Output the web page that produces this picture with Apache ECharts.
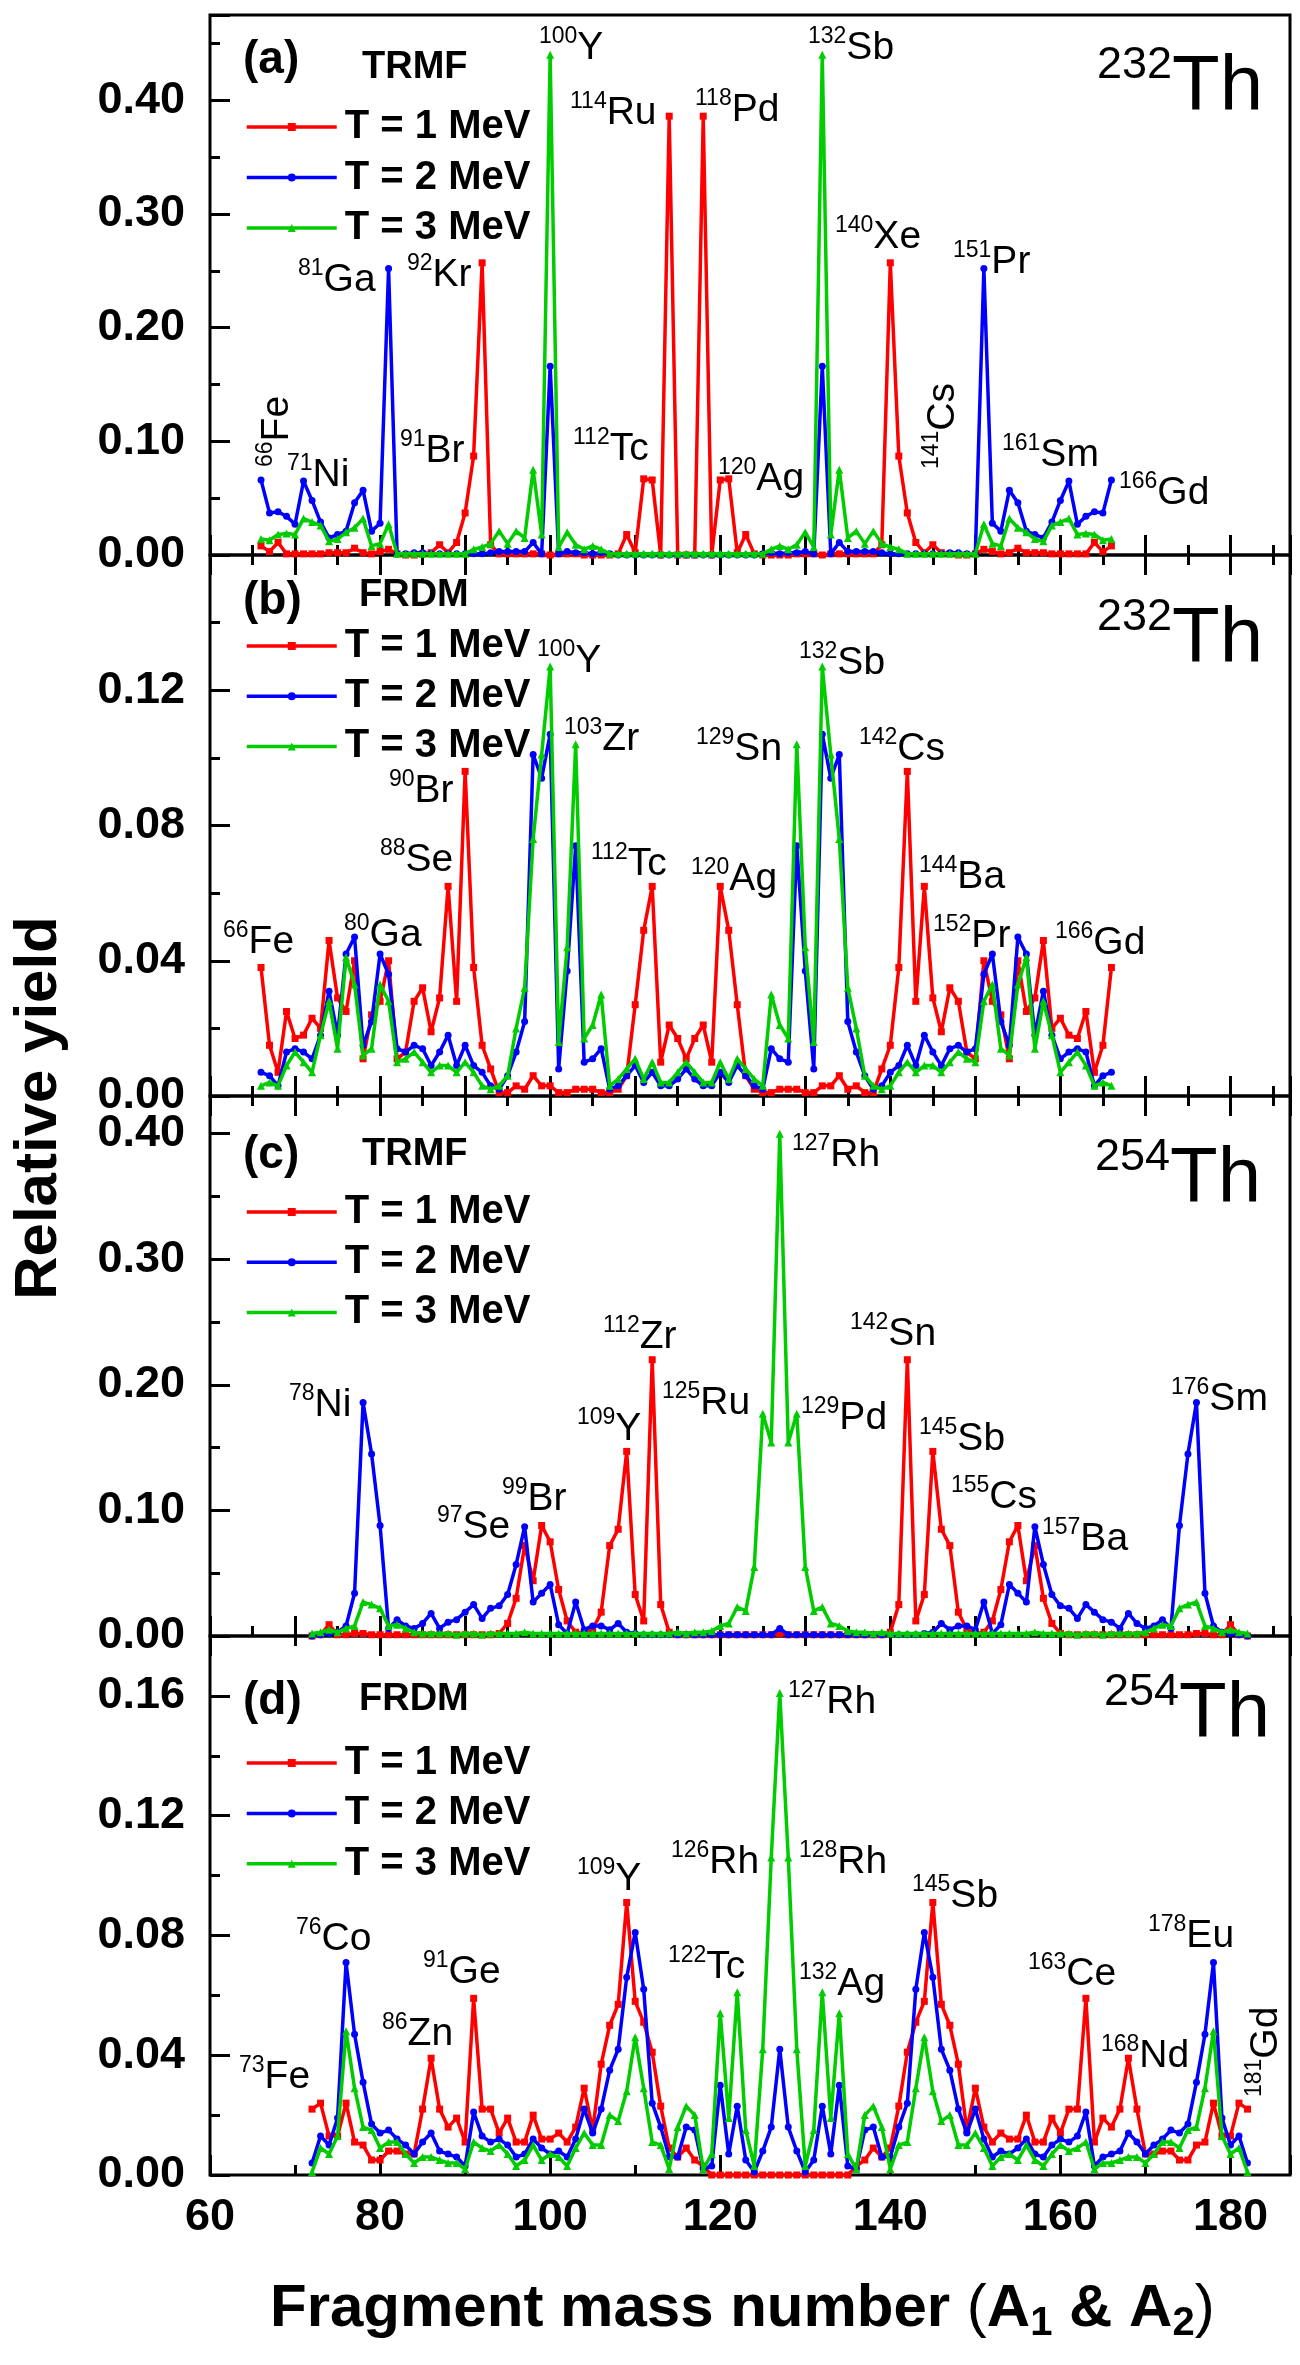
<!DOCTYPE html>
<html><head><meta charset="utf-8">
<script src="https://cdn.jsdelivr.net/npm/echarts@6/dist/echarts.min.js"></script>
<style>html,body{margin:0;padding:0;background:#fff}#c{width:1300px;height:2365px}</style>
</head><body><div id="c"></div>
<script>
const FONT = '"Liberation Sans", Arial, Helvetica, sans-serif';

// ---------- series meta ----------
const seriesNames = ['T = 1 MeV', 'T = 2 MeV', 'T = 3 MeV'];
const seriesColors = ['#ff0000', '#0000ff', '#00cc00'];
const seriesSymbols = ['rect', 'circle', 'triangle'];
const seriesSymbolSizes = [7, 7, 8];

// ---------- x values (fragment mass numbers) ----------
const massFirst232 = 66, massLast232 = 166;
const massFirst254 = 72, massLast254 = 182;

// ---------- (a) 232Th TRMF, A = 66..166 ----------
const th232TrmfT1 = [
0.008,0.003,0.011,0.001,0.001,0.001,0.001,0.001,0.002,0.002,
0.002,0.006,0.002,0.001,0.003,0.005,0.001,0.000,0.000,0.001,
0.002,0.009,0.002,0.011,0.037,0.087,0.257,0.009,0.001,0.001,
0.001,0.001,0.001,0.001,0.000,0.001,0.001,0.001,0.000,0.000,
0.000,0.000,0.001,0.018,0.002,0.067,0.066,0.000,0.386,0.000,
0.000,0.000,0.386,0.000,0.066,0.067,0.002,0.018,0.001,0.000,
0.000,0.000,0.000,0.001,0.001,0.001,0.000,0.001,0.001,0.001,
0.001,0.001,0.001,0.009,0.257,0.087,0.037,0.011,0.002,0.009,
0.002,0.001,0.000,0.000,0.001,0.005,0.003,0.001,0.002,0.006,
0.002,0.002,0.002,0.001,0.001,0.001,0.001,0.001,0.011,0.003,
0.008];
const th232TrmfT2 = [
0.066,0.037,0.038,0.034,0.027,0.065,0.048,0.029,0.015,0.018,
0.021,0.046,0.057,0.021,0.028,0.252,0.001,0.001,0.002,0.002,
0.001,0.001,0.001,0.001,0.001,0.001,0.001,0.002,0.003,0.003,
0.003,0.003,0.011,0.001,0.166,0.001,0.003,0.002,0.002,0.001,
0.002,0.001,0.000,0.000,0.000,0.000,0.000,0.000,0.000,0.000,
0.000,0.000,0.000,0.000,0.000,0.000,0.000,0.000,0.000,0.001,
0.002,0.001,0.002,0.002,0.003,0.001,0.166,0.001,0.011,0.003,
0.003,0.003,0.003,0.002,0.001,0.001,0.001,0.001,0.001,0.001,
0.001,0.002,0.002,0.001,0.001,0.252,0.028,0.021,0.057,0.046,
0.021,0.018,0.015,0.029,0.048,0.065,0.027,0.034,0.038,0.037,
0.066];
const th232TrmfT3 = [
0.014,0.013,0.018,0.019,0.018,0.032,0.029,0.026,0.012,0.014,
0.020,0.024,0.032,0.008,0.010,0.027,0.001,0.001,0.001,0.001,
0.001,0.001,0.001,0.001,0.001,0.005,0.007,0.010,0.021,0.010,
0.021,0.015,0.075,0.018,0.440,0.007,0.020,0.009,0.005,0.008,
0.005,0.001,0.001,0.001,0.001,0.001,0.001,0.001,0.001,0.001,
0.001,0.001,0.001,0.001,0.001,0.001,0.001,0.001,0.001,0.001,
0.005,0.008,0.005,0.009,0.020,0.007,0.440,0.018,0.075,0.015,
0.021,0.010,0.021,0.010,0.007,0.005,0.001,0.001,0.001,0.001,
0.001,0.001,0.001,0.001,0.001,0.027,0.010,0.008,0.032,0.024,
0.020,0.014,0.012,0.026,0.029,0.032,0.018,0.019,0.018,0.013,
0.014];

// ---------- (b) 232Th FRDM, A = 66..166 ----------
const th232FrdmT1 = [
0.038,0.015,0.007,0.025,0.017,0.018,0.023,0.020,0.046,0.029,
0.025,0.040,0.011,0.024,0.028,0.040,0.011,0.013,0.028,0.032,
0.019,0.029,0.062,0.028,0.096,0.038,0.015,0.008,0.001,0.001,
0.003,0.002,0.006,0.003,0.003,0.001,0.001,0.002,0.002,0.002,
0.001,0.001,0.002,0.006,0.027,0.049,0.062,0.010,0.021,0.017,
0.011,0.017,0.021,0.010,0.062,0.049,0.027,0.006,0.002,0.001,
0.001,0.002,0.002,0.002,0.001,0.001,0.003,0.003,0.006,0.002,
0.003,0.001,0.001,0.008,0.015,0.038,0.096,0.028,0.062,0.029,
0.019,0.032,0.028,0.013,0.011,0.040,0.028,0.024,0.011,0.040,
0.025,0.029,0.046,0.020,0.023,0.018,0.017,0.025,0.007,0.015,
0.038];
const th232FrdmT2 = [
0.007,0.006,0.003,0.013,0.014,0.013,0.011,0.018,0.031,0.018,
0.042,0.047,0.015,0.022,0.042,0.036,0.014,0.013,0.015,0.014,
0.009,0.013,0.018,0.009,0.015,0.009,0.007,0.003,0.002,0.006,
0.013,0.022,0.101,0.094,0.107,0.008,0.037,0.074,0.010,0.011,
0.014,0.002,0.003,0.006,0.009,0.004,0.007,0.003,0.003,0.005,
0.008,0.005,0.003,0.003,0.007,0.004,0.009,0.006,0.003,0.002,
0.014,0.011,0.010,0.074,0.037,0.008,0.107,0.094,0.101,0.022,
0.013,0.006,0.002,0.003,0.007,0.009,0.015,0.009,0.018,0.013,
0.009,0.014,0.015,0.013,0.014,0.036,0.042,0.022,0.015,0.047,
0.042,0.018,0.031,0.018,0.011,0.013,0.014,0.013,0.003,0.006,
0.007];
const th232FrdmT3 = [
0.003,0.004,0.003,0.009,0.013,0.010,0.007,0.018,0.028,0.014,
0.041,0.033,0.012,0.014,0.033,0.028,0.010,0.011,0.013,0.010,
0.007,0.009,0.009,0.007,0.010,0.007,0.003,0.002,0.003,0.006,
0.020,0.032,0.076,0.101,0.127,0.016,0.044,0.104,0.017,0.021,
0.030,0.003,0.005,0.008,0.011,0.005,0.010,0.004,0.004,0.007,
0.010,0.007,0.004,0.004,0.010,0.005,0.011,0.008,0.005,0.003,
0.030,0.021,0.017,0.104,0.044,0.016,0.127,0.101,0.076,0.032,
0.020,0.006,0.003,0.002,0.003,0.007,0.010,0.007,0.009,0.009,
0.007,0.010,0.013,0.011,0.010,0.028,0.033,0.014,0.012,0.033,
0.041,0.014,0.028,0.018,0.007,0.010,0.013,0.009,0.003,0.004,
0.003];

// ---------- (c) 254Th TRMF, A = 72..182 ----------
const th254TrmfT1 = [
0.000,0.001,0.009,0.001,0.001,0.002,0.002,0.001,0.001,0.001,
0.001,0.001,0.001,0.001,0.001,0.001,0.001,0.001,0.001,0.001,
0.001,0.001,0.002,0.010,0.030,0.072,0.044,0.088,0.075,0.037,
0.012,0.003,0.002,0.005,0.019,0.072,0.085,0.147,0.033,0.012,
0.220,0.025,0.003,0.001,0.001,0.001,0.001,0.001,0.001,0.001,
0.001,0.001,0.001,0.001,0.001,0.002,0.001,0.001,0.001,0.001,
0.001,0.001,0.001,0.001,0.001,0.001,0.001,0.001,0.003,0.025,
0.220,0.012,0.033,0.147,0.085,0.072,0.019,0.005,0.002,0.003,
0.012,0.037,0.075,0.088,0.044,0.072,0.030,0.010,0.002,0.001,
0.001,0.001,0.001,0.001,0.001,0.001,0.001,0.001,0.001,0.001,
0.001,0.001,0.001,0.001,0.002,0.002,0.001,0.001,0.009,0.001,
0.000];
const th254TrmfT2 = [
0.000,0.001,0.002,0.003,0.008,0.034,0.186,0.145,0.088,0.006,
0.013,0.008,0.006,0.010,0.018,0.006,0.011,0.013,0.019,0.025,
0.014,0.022,0.024,0.033,0.057,0.087,0.027,0.034,0.041,0.009,
0.002,0.027,0.005,0.008,0.008,0.005,0.010,0.003,0.002,0.001,
0.001,0.001,0.001,0.001,0.001,0.001,0.001,0.001,0.001,0.001,
0.001,0.001,0.001,0.001,0.001,0.006,0.001,0.001,0.001,0.001,
0.001,0.001,0.001,0.001,0.001,0.001,0.001,0.001,0.001,0.001,
0.001,0.001,0.002,0.003,0.010,0.005,0.008,0.008,0.005,0.027,
0.002,0.009,0.041,0.034,0.027,0.087,0.057,0.033,0.024,0.022,
0.014,0.025,0.019,0.013,0.011,0.006,0.018,0.010,0.006,0.008,
0.013,0.006,0.088,0.145,0.186,0.034,0.008,0.003,0.002,0.001,
0.000];
const th254TrmfT3 = [
0.002,0.003,0.005,0.003,0.006,0.008,0.027,0.025,0.022,0.008,
0.009,0.006,0.003,0.002,0.002,0.002,0.002,0.001,0.002,0.002,
0.001,0.002,0.002,0.002,0.002,0.003,0.002,0.002,0.002,0.002,
0.002,0.002,0.002,0.002,0.002,0.002,0.002,0.002,0.002,0.002,
0.002,0.002,0.002,0.003,0.002,0.003,0.003,0.004,0.008,0.010,
0.023,0.020,0.055,0.177,0.154,0.400,0.154,0.177,0.055,0.020,
0.023,0.010,0.008,0.004,0.003,0.003,0.002,0.003,0.002,0.002,
0.002,0.002,0.002,0.002,0.002,0.002,0.002,0.002,0.002,0.002,
0.002,0.002,0.002,0.002,0.002,0.003,0.002,0.002,0.002,0.002,
0.001,0.002,0.002,0.001,0.002,0.002,0.002,0.002,0.003,0.006,
0.009,0.008,0.022,0.025,0.027,0.008,0.006,0.003,0.005,0.003,
0.002];

// ---------- (d) 254Th FRDM, A = 72..182 ----------
const th254FrdmT1 = [
0.022,0.024,0.013,0.013,0.024,0.011,0.010,0.005,0.005,0.008,
0.008,0.007,0.007,0.022,0.039,0.022,0.016,0.019,0.011,0.059,
0.022,0.022,0.014,0.019,0.011,0.011,0.020,0.012,0.012,0.014,
0.011,0.016,0.029,0.015,0.037,0.050,0.057,0.091,0.058,0.051,
0.041,0.023,0.009,0.006,0.009,0.005,0.003,0.000,0.000,0.000,
0.000,0.000,0.000,0.000,0.000,0.000,0.000,0.000,0.000,0.000,
0.000,0.000,0.000,0.000,0.003,0.005,0.009,0.006,0.009,0.023,
0.041,0.051,0.058,0.091,0.057,0.050,0.037,0.015,0.029,0.016,
0.011,0.014,0.012,0.012,0.020,0.011,0.011,0.019,0.014,0.022,
0.022,0.059,0.011,0.019,0.016,0.022,0.039,0.022,0.007,0.007,
0.008,0.008,0.005,0.005,0.010,0.011,0.024,0.013,0.013,0.024,
0.022];
const th254FrdmT2 = [
0.004,0.013,0.010,0.019,0.071,0.047,0.031,0.017,0.014,0.015,
0.012,0.010,0.007,0.011,0.014,0.008,0.007,0.006,0.003,0.021,
0.013,0.011,0.012,0.010,0.006,0.007,0.012,0.009,0.007,0.008,
0.006,0.012,0.022,0.014,0.022,0.035,0.042,0.066,0.081,0.062,
0.024,0.016,0.006,0.006,0.016,0.015,0.002,0.003,0.030,0.007,
0.023,0.005,0.001,0.008,0.016,0.042,0.016,0.008,0.001,0.005,
0.023,0.007,0.030,0.003,0.002,0.015,0.016,0.006,0.006,0.016,
0.024,0.062,0.081,0.066,0.042,0.035,0.022,0.014,0.022,0.012,
0.006,0.008,0.007,0.009,0.012,0.007,0.006,0.010,0.012,0.011,
0.013,0.021,0.003,0.006,0.007,0.008,0.014,0.011,0.007,0.010,
0.012,0.015,0.014,0.017,0.031,0.047,0.071,0.019,0.010,0.013,
0.004];
const th254FrdmT3 = [
0.001,0.009,0.007,0.013,0.048,0.029,0.016,0.015,0.009,0.011,
0.011,0.007,0.004,0.006,0.006,0.005,0.004,0.004,0.002,0.011,
0.009,0.008,0.010,0.007,0.003,0.005,0.010,0.005,0.007,0.006,
0.003,0.009,0.014,0.010,0.010,0.020,0.018,0.028,0.046,0.029,
0.011,0.010,0.002,0.016,0.023,0.020,0.002,0.007,0.054,0.019,
0.061,0.015,0.003,0.042,0.106,0.161,0.106,0.042,0.003,0.015,
0.061,0.019,0.054,0.007,0.002,0.020,0.023,0.016,0.002,0.010,
0.011,0.029,0.046,0.028,0.018,0.020,0.010,0.010,0.014,0.009,
0.003,0.006,0.007,0.005,0.010,0.005,0.003,0.007,0.010,0.008,
0.009,0.011,0.002,0.004,0.004,0.005,0.006,0.006,0.004,0.007,
0.011,0.011,0.009,0.015,0.016,0.029,0.048,0.013,0.007,0.009,
0.001];

// ---------- axis tick labels ----------
const xTickLabels = [60, 80, 100, 120, 140, 160, 180];

// ---------- peak annotations: [mass, element, leftX, baselineY] ----------
const notesA = [[100,'Y',539,62],[114,'Ru',570,127],[118,'Pd',695,124],[132,'Sb',808,62],
  [81,'Ga',298,294],[92,'Kr',407,289],[140,'Xe',835,251],[151,'Pr',953,276],
  [71,'Ni',287,489],[91,'Br',400,465],[112,'Tc',573,463],[120,'Ag',718,493],
  [161,'Sm',1002,469],[166,'Gd',1119,507]];
const notesB = [[100,'Y',537,675],[103,'Zr',564,753],[129,'Sn',696,763],[132,'Sb',799,677],
  [142,'Cs',859,763],[90,'Br',389,805],[88,'Se',380,874],[112,'Tc',591,878],
  [120,'Ag',691,893],[144,'Ba',919,891],[66,'Fe',223,956],[80,'Ga',344,949],
  [152,'Pr',933,950],[166,'Gd',1055,957]];
const notesC = [[112,'Zr',603,1351],[125,'Ru',662,1417],[127,'Rh',792,1169],[129,'Pd',801,1432],
  [142,'Sn',850,1348],[145,'Sb',919,1453],[155,'Cs',951,1511],[157,'Ba',1042,1553],
  [176,'Sm',1171,1413],[78,'Ni',289,1419],[109,'Y',577,1443],[99,'Br',502,1513],
  [97,'Se',437,1541]];
const notesD = [[127,'Rh',788,1716],[126,'Rh',671,1876],[128,'Rh',799,1876],[109,'Y',577,1893],
  [145,'Sb',912,1910],[76,'Co',296,1953],[91,'Ge',423,1986],[122,'Tc',668,1981],
  [132,'Ag',799,1998],[163,'Ce',1028,1988],[178,'Eu',1148,1950],[86,'Zn',382,2048],
  [168,'Nd',1101,2070],[73,'Fe',239,2091]];
// rotated annotations: [mass, element, baselineX, startY]
const notesRotated = [[66,'Fe',291,467],[141,'Cs',957,469],[181,'Gd',1280,2097]];

// ---------- panel layout ----------
const panels = [
  {letter:'(a)', model:'TRMF', parent:232, first:massFirst232, last:massLast232,
   values:[th232TrmfT1, th232TrmfT2, th232TrmfT3],
   top:15, height:540, yMax:0.475, yMajor:0.1, yMinor:0.05,
   bottomTicks:[10,5], topTicks:null, showX:false,
   letterPos:[243,60], modelPos:[362,68], legendTop:107, legendGap:10.5, thPos:[1097,115]},
  {letter:'(b)', model:'FRDM', parent:232, first:massFirst232, last:massLast232,
   values:[th232FrdmT1, th232FrdmT2, th232FrdmT3],
   top:555, height:541, yMax:0.16, yMajor:0.04, yMinor:0.02,
   bottomTicks:[10,5], topTicks:[10,5], showX:false,
   letterPos:[243,601], modelPos:[359,596], legendTop:626, legendGap:10.2, thPos:[1097,667]},
  {letter:'(c)', model:'TRMF', parent:254, first:massFirst254, last:massLast254,
   values:[th254TrmfT1, th254TrmfT2, th254TrmfT3],
   top:1096, height:540, yMax:0.43, yMajor:0.1, yMinor:0.05,
   bottomTicks:[10,5], topTicks:[10,5], showX:false,
   letterPos:[243,1155], modelPos:[362,1155], legendTop:1192, legendGap:10.2, thPos:[1095,1207]},
  {letter:'(d)', model:'FRDM', parent:254, first:massFirst254, last:massLast254,
   values:[th254FrdmT1, th254FrdmT2, th254FrdmT3],
   top:1636, height:539, yMax:0.18, yMajor:0.04, yMinor:0.02,
   bottomTicks:[20,10], topTicks:[20,10], showX:true,
   letterPos:[243,1701], modelPos:[359,1700], legendTop:1743, legendGap:10.4, thPos:[1104,1742]}
];

panels.forEach(p => p.values.forEach((v, k) => {
  const n = p.last - p.first + 1;
  if (v.length !== n) throw new Error(p.letter + ' series ' + k + ' has ' + v.length + ' values, expected ' + n);
}));

const grids = [], xAxes = [], yAxes = [], series = [], legends = [], graphics = [];
const black = '#000';

panels.forEach((p, i) => {
  grids.push({left:210, width:1080, top:p.top, height:p.height, show:true,
    borderColor:black, borderWidth:3, backgroundColor:'transparent', containLabel:false, outerBoundsMode:'none'});
  const xBase = {gridIndex:i, type:'value', min:60, max:187, splitLine:{show:false},
    axisLine:{show:false, onZero:false}, axisLabel:{show:false}};
  const mainX = xAxes.length;
  xAxes.push(Object.assign({}, xBase, {position:'bottom', interval:p.bottomTicks[0],
    axisTick:{show:true, inside:true, length:20, lineStyle:{color:black, width:3}},
    axisLabel: p.showX ? {show:true, margin:20, color:black, fontSize:45, fontWeight:'bold', fontFamily:FONT,
      formatter: v => xTickLabels.indexOf(v) >= 0 ? String(v) : ''} : {show:false}}));
  xAxes.push(Object.assign({}, xBase, {position:'bottom', interval:p.bottomTicks[1],
    axisTick:{show:true, inside:true, length:10, lineStyle:{color:black, width:3}}}));
  if (p.topTicks) {
    xAxes.push(Object.assign({}, xBase, {position:'top', interval:p.topTicks[0],
      axisTick:{show:true, inside:true, length:20, lineStyle:{color:black, width:3}}}));
    xAxes.push(Object.assign({}, xBase, {position:'top', interval:p.topTicks[1],
      axisTick:{show:true, inside:true, length:10, lineStyle:{color:black, width:3}}}));
  }
  const mainY = yAxes.length;
  yAxes.push({gridIndex:i, type:'value', position:'left', min:0, max:p.yMax, interval:p.yMajor,
    splitLine:{show:false}, axisLine:{show:false, onZero:false},
    axisTick:{show:true, inside:true, length:20, lineStyle:{color:black, width:3}},
    axisLabel:{show:true, margin:25, color:black, fontSize:45, fontWeight:'bold', fontFamily:FONT,
      formatter: v => (v > p.yMax - 1e-9) ? '' : v.toFixed(2)}});
  yAxes.push({gridIndex:i, type:'value', position:'left', min:0, max:p.yMax, interval:p.yMinor,
    splitLine:{show:false}, axisLine:{show:false, onZero:false},
    axisTick:{show:true, inside:true, length:10, lineStyle:{color:black, width:3}},
    axisLabel:{show:false}});

  p.values.forEach((vals, k) => {
    series.push({type:'line', name:seriesNames[k], xAxisIndex:mainX, yAxisIndex:mainY,
      data: vals.map((v, j) => [p.first + j, v]),
      symbol:seriesSymbols[k], symbolSize:seriesSymbolSizes[k], showSymbol:true, showAllSymbol:true,
      lineStyle:{color:seriesColors[k], width:3.5}, itemStyle:{color:seriesColors[k], borderWidth:0},
      emphasis:{disabled:true}, z:3 + k, clip:true});
  });

  legends.push({orient:'vertical', left:245, top:p.legendTop, padding:0, itemGap:p.legendGap,
    itemWidth:90, itemHeight:10, selectedMode:false, data:seriesNames.slice(),
    lineStyle:{width:3.5},
    textStyle:{color:black, fontSize:40, fontWeight:'bold', fontFamily:FONT, lineHeight:40, padding:[0,0,0,3]}});

  graphics.push({type:'text', x:p.letterPos[0], y:p.letterPos[1], z:50,
    style:{text:p.letter, fill:black, fontSize:46, fontWeight:'bold', fontFamily:FONT,
      align:'left', verticalAlign:'middle', textAlign:'left', textVerticalAlign:'middle'}});
  graphics.push({type:'text', x:p.modelPos[0], y:p.modelPos[1], z:50,
    style:{text:p.model, fill:black, fontSize:38, fontWeight:'bold', fontFamily:FONT,
      align:'left', verticalAlign:'middle', textAlign:'left', textVerticalAlign:'middle'}});
  graphics.push({type:'text', x:p.thPos[0], y:p.thPos[1] - 72, z:50,
    style:{text:'{s|' + p.parent + '}{t|Th}', fill:black, fontFamily:FONT,
      align:'left', verticalAlign:'top', textAlign:'left', textVerticalAlign:'top',
      rich:{s:{fontSize:45, fontFamily:FONT, fill:black, lineHeight:52, verticalAlign:'top'},
            t:{fontSize:78, fontFamily:FONT, fill:black, lineHeight:90}}}});
});

const noteRich = {
  s:{fontSize:23, fontFamily:FONT, fill:black, lineHeight:18, verticalAlign:'top'},
  e:{fontSize:39, fontFamily:FONT, fill:black, lineHeight:46}
};
[notesA, notesB, notesC, notesD].forEach(list => list.forEach(n => {
  graphics.push({type:'text', x:n[2], y:n[3] - 37, z:60,
    style:{text:'{s|' + n[0] + '}{e|' + n[1] + '}', fill:black, fontFamily:FONT,
      align:'left', verticalAlign:'top', textAlign:'left', textVerticalAlign:'top', rich:noteRich}});
}));
notesRotated.forEach(n => {
  graphics.push({type:'text', x:n[2] - 37, y:n[3], rotation:Math.PI / 2, z:60,
    style:{text:'{s|' + n[0] + '}{e|' + n[1] + '}', fill:black, fontFamily:FONT,
      align:'left', verticalAlign:'top', textAlign:'left', textVerticalAlign:'top', rich:noteRich}});
});

// axis titles
graphics.push({type:'text', x:39, y:1108, rotation:Math.PI / 2, z:60,
  style:{text:'Relative yield', fill:black, fontSize:60, fontWeight:'bold', fontFamily:FONT,
    align:'center', verticalAlign:'middle', textAlign:'center', textVerticalAlign:'middle'}});
graphics.push({type:'text', x:270, y:2274, z:60,
  style:{text:'{b|Fragment mass number }{p|(}{b|A}{s|1}{b| & A}{s|2}{p|)}', fill:black, fontFamily:FONT,
    align:'left', verticalAlign:'top', textAlign:'left', textVerticalAlign:'top',
    rich:{b:{fontSize:60, fontWeight:'bold', fontFamily:FONT, fill:black, lineHeight:70},
          p:{fontSize:60, fontWeight:'normal', fontFamily:FONT, fill:black, lineHeight:70},
          s:{fontSize:40, fontWeight:'bold', fontFamily:FONT, fill:black, lineHeight:12, verticalAlign:'bottom'}}}});

const chart = echarts.init(document.getElementById('c'), null, {renderer:'canvas', width:1300, height:2365});
chart.setOption({
  backgroundColor:'#ffffff',
  animation:false,
  textStyle:{fontFamily:FONT},
  grid:grids, xAxis:xAxes, yAxis:yAxes, series:series, legend:legends,
  graphic:{elements:graphics}
});
</script></body></html>
